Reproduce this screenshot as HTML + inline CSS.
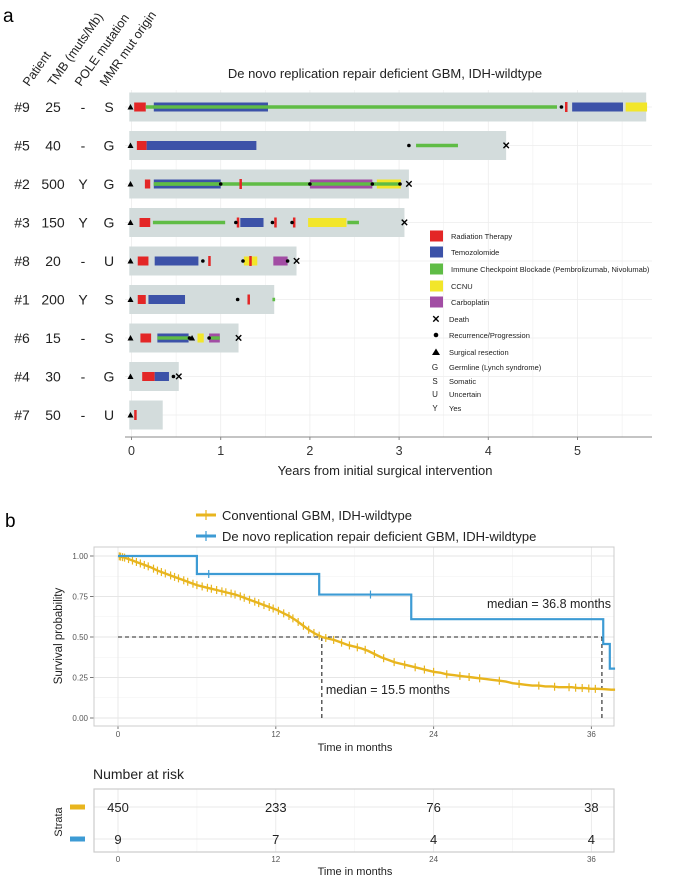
<!DOCTYPE html>
<html><head><meta charset="utf-8"><style>
body{margin:0;background:#fff}
svg{display:block;font-family:"Liberation Sans",Arial,sans-serif}
</style></head><body>
<svg id="fig" width="676" height="877" viewBox="0 0 676 877" xmlns="http://www.w3.org/2000/svg">
<g id="swim"></g>
<g id="km"></g>
<g id="risk"></g>
</svg>
<script>
// ---------- Swimmer data ----------
const patients=["#9","#5","#2","#3","#8","#1","#6","#4","#7"];
const tmb=["25","40","500","150","20","200","15","30","50"];
const pole=["-","-","Y","Y","-","Y","-","-","-"];
const mmr=["S","G","G","G","U","S","S","G","U"];
const followup=[5.77,4.2,3.11,3.06,1.85,1.6,1.2,0.53,0.35];
// treatments: [row, start, end, type]  R=radiation T=TMZ I=ICB C=CCNU P=carboplatin
const treatments=[
[0,0.03,0.16,"R"],[0,0.16,4.77,"I"],[0,0.25,1.53,"T"],[0,4.86,4.88,"R"],[0,4.94,5.51,"T"],[0,5.54,5.78,"C"],
[1,0.06,0.17,"R"],[1,0.17,1.4,"T"],[1,3.19,3.66,"I"],
[2,0.15,0.21,"R"],[2,0.25,1.0,"T"],[2,0.25,3.01,"I"],[2,1.21,1.23,"R"],[2,2.0,2.7,"P"],[2,2.75,3.02,"C"],
[3,0.09,0.21,"R"],[3,0.24,1.05,"I"],[3,1.18,1.2,"R"],[3,1.22,1.48,"T"],[3,1.6,1.62,"R"],[3,1.81,1.83,"R"],[3,1.98,2.41,"C"],[3,2.42,2.55,"I"],
[4,0.07,0.19,"R"],[4,0.26,0.75,"T"],[4,0.86,0.88,"R"],[4,1.26,1.41,"C"],[4,1.32,1.34,"R"],[4,1.59,1.75,"P"],
[5,0.07,0.16,"R"],[5,0.19,0.6,"T"],[5,1.3,1.32,"R"],[5,1.58,1.61,"I"],
[6,0.1,0.22,"R"],[6,0.29,0.64,"T"],[6,0.74,0.81,"C"],[6,0.87,0.99,"P"],
[7,0.12,0.26,"R"],[7,0.26,0.42,"T"],
[8,0.03,0.05,"R"]];
const icbOverlay=[[0,0.25,1.53],[2,0.25,1.0],[2,2.0,2.7],[2,2.75,3.01],[6,0.29,0.66],[6,0.89,0.99]];
const recur=[[0,4.82],[1,3.11],[2,1.0],[2,2.0],[2,2.7],[2,3.01],[3,1.17],[3,1.58],[3,1.8],[4,0.8],[4,1.25],[4,1.75],[5,1.19],[6,0.65],[6,0.87],[7,0.47]];
const deaths=[[1,4.2],[2,3.11],[3,3.06],[4,1.85],[6,1.2],[7,0.53]];
const resections=[[0,0],[1,0],[2,0],[3,0],[4,0],[5,0],[6,0],[7,0],[8,0],[6,0.69]];
const yearTicks=[0,1,2,3,4,5];

// ---------- KM data ----------
const convT=[0,0.5,1,1.5,2,2.5,3,3.5,4,4.5,5,5.5,6,6.5,7,7.5,8,8.5,9,9.5,10,10.5,11,11.5,12,12.5,13,13.5,14,14.5,15,15.5,16,16.5,17,17.5,18,18.5,19,19.5,20,20.5,21,21.5,22,22.5,23,23.5,24,24.5,25,25.5,26,26.5,27,27.5,28,28.5,29,29.5,30,30.5,31,31.5,32,32.5,33,33.5,34,34.5,35,35.5,36,36.5,37,37.5,37.8];
const convS=[1,0.99,0.975,0.96,0.945,0.93,0.91,0.895,0.88,0.865,0.85,0.835,0.82,0.81,0.8,0.79,0.78,0.77,0.76,0.745,0.73,0.715,0.7,0.685,0.67,0.65,0.63,0.605,0.575,0.545,0.52,0.5,0.49,0.48,0.465,0.45,0.44,0.43,0.415,0.395,0.375,0.36,0.345,0.335,0.325,0.315,0.305,0.295,0.285,0.28,0.27,0.265,0.26,0.255,0.25,0.245,0.24,0.235,0.23,0.225,0.215,0.21,0.205,0.2,0.2,0.195,0.195,0.19,0.19,0.19,0.185,0.185,0.18,0.18,0.178,0.175,0.175];
const convCens=[0.1,0.2,0.35,0.5,0.8,1.1,1.4,1.7,2.0,2.3,2.7,3.0,3.3,3.6,4.0,4.3,4.6,5.0,5.3,5.7,6.0,6.4,6.8,7.1,7.5,7.9,8.2,8.6,8.9,9.3,9.6,10.0,10.4,10.7,11.1,11.5,11.8,12.2,12.6,13.0,13.3,13.7,14.1,14.5,14.9,15.3,15.8,16.4,17.0,17.6,18.2,18.8,19.5,20.2,21.0,21.8,22.6,23.3,24.0,25.0,26.0,26.7,27.5,29.0,30.5,32.0,33.2,34.3,34.8,35.3,35.8,36.3];
const rddT=[0,6.0,15.3,22.3,36.9,37.4,37.8];
const rddS=[1,0.889,0.762,0.61,0.457,0.305,0.305];
const rddCens=[6.9,19.2];
const monthTicks=[0,12,24,36];
const survTicks=[0,0.25,0.5,0.75,1];
const riskConv=["450","233","76","38"];
const riskRdd=["9","7","4","4"];
const medians=[15.5,36.8];

const NS="http://www.w3.org/2000/svg";
function mk(parent,tag,attrs,text){const e=document.createElementNS(NS,tag);for(const k in attrs)e.setAttribute(k,attrs[k]);if(text!==undefined)e.textContent=text;parent.appendChild(e);return e;}
const colors={R:"#e32626",T:"#3c52a8",I:"#5fbc45",C:"#f2e62a",P:"#a24da4"};

// ---------- Swimmer ----------
const sw=document.getElementById('swim');
const sx=y=>131.5+y*89.2;
const sy=i=>107+i*38.5;
let t=mk(sw,'text',{x:3,y:22,'font-size':19},'a');

const heads=[["Patient",29],["TMB (muts/Mb)",54],["POLE mutation",81],["MMR mut origin",106]];
heads.forEach(h=>{const e=mk(sw,'text',{x:h[1],y:87,'font-size':12.5,transform:`rotate(-55 ${h[1]} 87)`,fill:'#222'},h[0]);
});
t=mk(sw,'text',{x:385,y:78,'font-size':13,'text-anchor':'middle',fill:'#222'},'De novo replication repair deficient GBM, IDH-wildtype');

[0,0.5,1,1.5,2,2.5,3,3.5,4,4.5,5,5.5].forEach(v=>{const e=mk(sw,'line',{x1:sx(v),x2:sx(v),y1:90,y2:437,stroke:'#ececec','stroke-width':v%1?0.5:0.8});
});
patients.forEach((p,i)=>{const e=mk(sw,'line',{x1:125,x2:652,y1:sy(i),y2:sy(i),stroke:'#ececec','stroke-width':0.8});
});
patients.forEach((p,i)=>{
 const g=mk(sw,'rect',{x:sx(-0.025),y:sy(i)-14.5,width:sx(followup[i])-sx(-0.025),height:29,fill:'#d3dcdc'});
 
 [[p,22],[tmb[i],53],[pole[i],83],[mmr[i],109]].forEach(c=>{const e=mk(sw,'text',{x:c[1],y:sy(i)+5,'font-size':14,'text-anchor':'middle',fill:'#222'},c[0]);
 });
});
treatments.forEach(tr=>{const h=tr[3]==='I'?3.5:(tr[2]-tr[1]<0.04?10:9);
 const w=Math.max(sx(tr[2])-sx(tr[1]),2.5);
 const e=mk(sw,'rect',{x:sx(tr[1]),y:sy(tr[0])-h/2,width:w,height:h,fill:colors[tr[3]]});
 });
icbOverlay.forEach(o=>{const e=mk(sw,'rect',{x:sx(o[1]),y:sy(o[0])-1.7,width:sx(o[2])-sx(o[1]),height:3.4,fill:colors.I});
 });
recur.forEach(r=>{const e=mk(sw,'circle',{cx:sx(r[1]),cy:sy(r[0]),r:1.8,fill:'#000'});
 });
deaths.forEach(d=>{const e=mk(sw,'text',{x:sx(d[1]),y:sy(d[0])+3.5,'font-size':10,'font-weight':'bold','text-anchor':'middle'},'✕');
 });
resections.forEach(r=>{const x=sx(r[1])-1,y=sy(r[0]);const e=mk(sw,'polygon',{points:`${x-3},${y+2.5} ${x+3},${y+2.5} ${x},${y-3}`,fill:'#000'});
 });
t=mk(sw,'line',{x1:125,x2:652,y1:437,y2:437,stroke:'#888','stroke-width':1});
yearTicks.forEach(v=>{let e=mk(sw,'line',{x1:sx(v),x2:sx(v),y1:437,y2:440,stroke:'#888'});
 e=mk(sw,'text',{x:sx(v),y:455,'font-size':12.5,'text-anchor':'middle',fill:'#333'},v);
 });
t=mk(sw,'text',{x:385,y:475,'font-size':13,'text-anchor':'middle',fill:'#222'},'Years from initial surgical intervention');

const leg=[["sw","R","Radiation Therapy"],["sw","T","Temozolomide"],["sw","I","Immune Checkpoint Blockade (Pembrolizumab, Nivolumab)"],["sw","C","CCNU"],["sw","P","Carboplatin"],["x","","Death"],["d","","Recurrence/Progression"],["t","","Surgical resection"],["l","G","Germline (Lynch syndrome)"],["l","S","Somatic"],["l","U","Uncertain"],["l","Y","Yes"]];
const ly=[236,252,269,286,302,319,335,352,367,381,394,408];
leg.forEach((l,i)=>{const y=ly[i];
 if(l[0]==='sw'){const e=mk(sw,'rect',{x:430,y:y-5.5,width:13,height:11,fill:colors[l[1]]});}
 else if(l[0]==='x'){const e=mk(sw,'text',{x:436,y:y+3.5,'font-size':10,'font-weight':'bold','text-anchor':'middle'},'✕');}
 else if(l[0]==='d'){const e=mk(sw,'circle',{cx:436,cy:y,r:2.3,fill:'#000'});}
 else if(l[0]==='t'){const e=mk(sw,'polygon',{points:`432,${y+3} 440,${y+3} 436,${y-3.5}`,fill:'#000'});}
 else {const e=mk(sw,'text',{x:435,y:y+3,'font-size':8,'text-anchor':'middle',fill:'#222'},l[1]);}
 const e=mk(sw,'text',{x:l[0]==='sw'?451:449,y:y+3,'font-size':7.5,fill:'#222'},l[2]);
 });

// ---------- KM ----------
const km=document.getElementById('km');
const kx=m=>118+m*13.15;
const ky=s=>718-s*162;
t=mk(km,'text',{x:5,y:527,'font-size':19},'b');
[["#e8b51e","Conventional GBM, IDH-wildtype",515],["#3d9bd4","De novo replication repair deficient GBM, IDH-wildtype",536]].forEach(l=>{
 let e=mk(km,'line',{x1:196,x2:216,y1:l[2],y2:l[2],stroke:l[0],'stroke-width':3});
 e=mk(km,'line',{x1:206,x2:206,y1:l[2]-5,y2:l[2]+5,stroke:l[0],'stroke-width':1.2});
 e=mk(km,'text',{x:222,y:l[2]+5,'font-size':13,fill:'#222'},l[1]);});
[0.125,0.375,0.625,0.875].forEach(v=>{const e=mk(km,'line',{x1:94,x2:614,y1:ky(v),y2:ky(v),stroke:'#f2f2f2','stroke-width':0.6});});
[6,18,30].forEach(v=>{const e=mk(km,'line',{x1:kx(v),x2:kx(v),y1:547,y2:726,stroke:'#f2f2f2','stroke-width':0.6});});
survTicks.forEach(v=>{let e=mk(km,'line',{x1:94,x2:614,y1:ky(v),y2:ky(v),stroke:'#e6e6e6','stroke-width':0.9});
 e=mk(km,'text',{x:88,y:ky(v)+3,'font-size':8,'text-anchor':'end',fill:'#555'},v.toFixed(2));
 e=mk(km,'line',{x1:90,x2:94,y1:ky(v),y2:ky(v),stroke:'#777'});});
monthTicks.forEach(v=>{let e=mk(km,'line',{x1:kx(v),x2:kx(v),y1:547,y2:726,stroke:'#e6e6e6','stroke-width':0.9});
 e=mk(km,'text',{x:kx(v),y:737,'font-size':8,'text-anchor':'middle',fill:'#555'},v);
 e=mk(km,'line',{x1:kx(v),x2:kx(v),y1:726,y2:729,stroke:'#777'});});
t=mk(km,'rect',{x:94,y:547,width:520,height:179,fill:'none',stroke:'#ccc','stroke-width':1});
t=mk(km,'text',{x:62,y:636,'font-size':11.5,'text-anchor':'middle',fill:'#222',transform:'rotate(-90 62 636)'},'Survival probability');
t=mk(km,'text',{x:355,y:751,'font-size':11,'text-anchor':'middle',fill:'#222'},'Time in months');
t=mk(km,'path',{d:`M${kx(0)},${ky(0.5)}H${kx(medians[1])}M${kx(medians[0])},${ky(0.5)}V${ky(0)}M${kx(medians[1])},${ky(0.5)}V${ky(0)}`,stroke:'#222','stroke-width':1.1,'stroke-dasharray':'4,3',fill:'none'});

function stepPath(T,S){let d=`M${kx(T[0])},${ky(S[0])}`;for(let i=1;i<T.length;i++){d+=`H${kx(T[i])}V${ky(S[i])}`;}return d;}
function linePath(T,S){return T.map((m,i)=>(i?'L':'M')+kx(m)+','+ky(S[i])).join('');}
function survAt(T,S,m){for(let i=1;i<T.length;i++){if(T[i]>=m){const f=(m-T[i-1])/(T[i]-T[i-1]);return S[i-1]+f*(S[i]-S[i-1]);}}return S[S.length-1];}
function survStep(T,S,m){let s=S[0];for(let i=0;i<T.length;i++){if(T[i]<=m)s=S[i];}return s;}
t=mk(km,'path',{d:linePath(convT,convS),stroke:'#e8b51e','stroke-width':2.4,fill:'none'});
convCens.forEach(m=>{const y=ky(survAt(convT,convS,m));const e=mk(km,'line',{x1:kx(m),x2:kx(m),y1:y-4,y2:y+4,stroke:'#e8b51e','stroke-width':1.2});});
t=mk(km,'path',{d:stepPath(rddT,rddS),stroke:'#3d9bd4','stroke-width':2.2,fill:'none'});
rddCens.forEach(m=>{const y=ky(survStep(rddT,rddS,m));const e=mk(km,'line',{x1:kx(m),x2:kx(m),y1:y-4,y2:y+4,stroke:'#3d9bd4','stroke-width':1.2});});
t=mk(km,'text',{x:611,y:608,'font-size':12.5,'text-anchor':'end',fill:'#222'},'median = 36.8 months');
t=mk(km,'text',{x:kx(medians[0])+4,y:694,'font-size':12.5,fill:'#222'},'median = 15.5 months');

// ---------- Risk table ----------
const rk=document.getElementById('risk');
t=mk(rk,'text',{x:93,y:779,'font-size':14,fill:'#222'},'Number at risk');
[6,18,30].forEach(v=>{const e=mk(rk,'line',{x1:kx(v),x2:kx(v),y1:789,y2:852,stroke:'#f2f2f2','stroke-width':0.6});});
monthTicks.forEach(v=>{let e=mk(rk,'line',{x1:kx(v),x2:kx(v),y1:789,y2:852,stroke:'#e8e8e8','stroke-width':0.9});
 e=mk(rk,'text',{x:kx(v),y:862,'font-size':8,'text-anchor':'middle',fill:'#555'},v);});
[807,839].forEach(y=>{const e=mk(rk,'line',{x1:94,x2:614,y1:y,y2:y,stroke:'#e8e8e8','stroke-width':0.9});});
t=mk(rk,'rect',{x:94,y:789,width:520,height:63,fill:'none',stroke:'#ccc','stroke-width':1.2});
[[riskConv,807,'#e8b51e'],[riskRdd,839,'#3d9bd4']].forEach(r=>{
 let e=mk(rk,'rect',{x:70,y:r[1]-2.5,width:15,height:5,fill:r[2]});
 r[0].forEach((v,i)=>{const e2=mk(rk,'text',{x:kx(monthTicks[i]),y:r[1]+5,'font-size':13,'text-anchor':'middle',fill:'#222'},v);});});
t=mk(rk,'text',{x:62,y:822,'font-size':11,'text-anchor':'middle',fill:'#222',transform:'rotate(-90 62 822)'},'Strata');
t=mk(rk,'text',{x:355,y:875,'font-size':11,'text-anchor':'middle',fill:'#222'},'Time in months');
</script>
</body></html>
